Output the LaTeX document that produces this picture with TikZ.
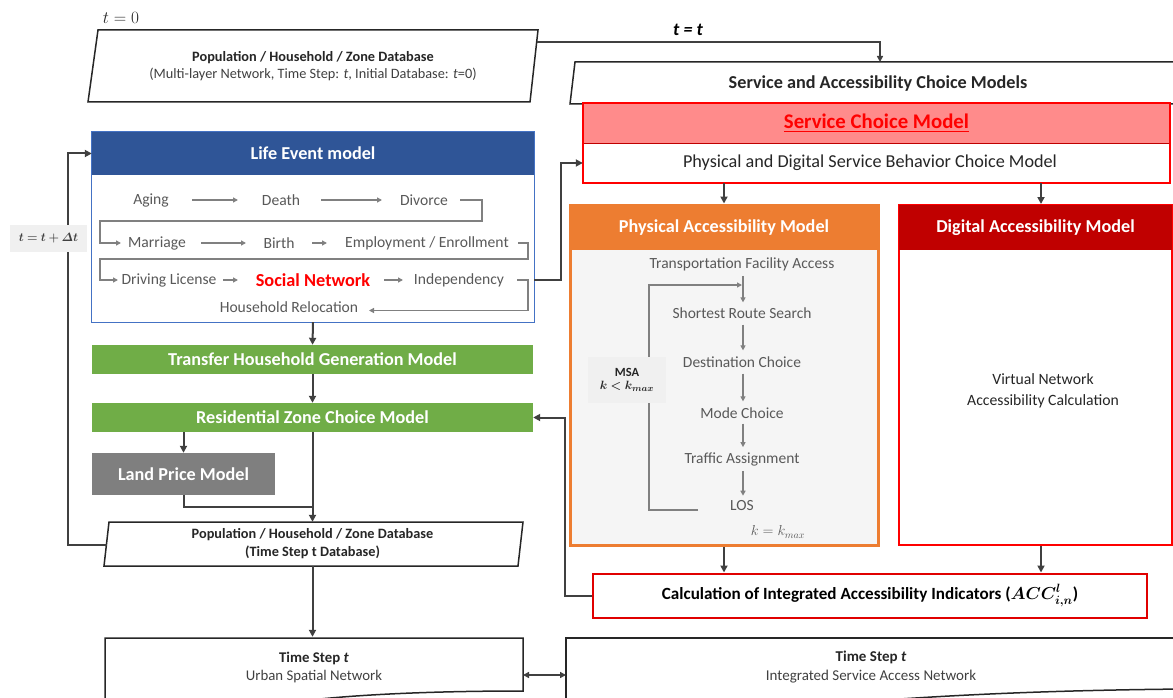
\documentclass[tikz,border=0pt]{standalone}
\usepackage{fontspec}
\setmainfont{Carlito}
\usepackage{amsmath}
\usepackage{bm}
\usetikzlibrary{arrows.meta,calc}
\definecolor{cline}{HTML}{404040}
\definecolor{agray}{HTML}{808080}
\definecolor{tgray}{HTML}{595959}
\definecolor{tdark}{HTML}{262626}
\definecolor{bluec}{HTML}{2F5597}
\definecolor{leborder}{HTML}{4472C4}
\definecolor{greenc}{HTML}{70AD47}
\definecolor{landc}{HTML}{7F7F7F}
\definecolor{orangec}{HTML}{ED7D31}
\definecolor{innerc}{HTML}{F5F5F5}
\definecolor{lblbg}{HTML}{F0F0F0}
\definecolor{darkredc}{HTML}{C00000}
\definecolor{pinkc}{HTML}{FF8B8B}
\definecolor{redc}{HTML}{FF0000}
\definecolor{calcred}{HTML}{E00000}
\begin{document}
\begin{tikzpicture}[x=1pt,y=-1pt,
  conn/.style={draw=cline, line width=2pt, -{Triangle[length=7pt,width=7pt]}},
  plainline/.style={draw=cline, line width=2pt},
  iarrow/.style={draw=agray, line width=1.3pt, -{Triangle[length=5pt,width=5pt]}},
  item/.style={text=tgray, font=\fontsize{15.6}{18}\selectfont, inner sep=1pt},
  pitem/.style={text=tgray, font=\fontsize{15.5}{18}\selectfont, inner sep=2pt},
  hdr/.style={text=white, font=\bfseries\fontsize{18.2}{21}\selectfont, inner sep=0pt},
  gbox/.style={fill=greenc, text=white, font=\bfseries\fontsize{18.2}{21}\selectfont, minimum width=441pt, minimum height=29pt, inner sep=0pt},
  outline/.style={draw=black!85, line width=1.5pt},
  dbtext/.style={align=center, inner sep=0pt, font=\fontsize{14.3}{18}\selectfont},
]
\useasboundingbox (0,0) rectangle (1173,698);

% ---------- top database ----------
\node[text=tdark, font=\fontsize{16}{18}\selectfont] (t0) at (121,18) {$t=0$};
\draw[outline, fill=white] (98,30) -- (538,30) -- (530,102) -- (88,102) -- cycle;
\node[dbtext, minimum width=440pt, minimum height=72pt] (db0) at (313,66)
  {\textcolor{tdark}{\textbf{Population / Household / Zone Database}}\\[-1pt]
   \textcolor{cline}{(Multi-layer Network, Time Step: \textit{t}, Initial Database: \textit{t}=0)}};

% ---------- service & accessibility ----------
\draw[outline, fill=white] (570,104) -- (575,62) -- (1185,62) -- (1185,104) -- cycle;
\node[text=tdark, font=\bfseries\fontsize{18.2}{21}\selectfont] (sam) at (878,84) {Service and Accessibility Choice Models};
\coordinate (samtop) at (880,62);
\node[text=black, font=\bfseries\itshape\fontsize{18}{21}\selectfont] (ttlab) at (688,30) {t = t};
\coordinate (db0r) at (536.5,42);
\draw[cline, line width=1.6pt, -{Triangle[length=6pt,width=6pt]}] (db0r) -| (samtop);

% service choice model
\node[fill=white, minimum width=587pt, minimum height=80pt, inner sep=0pt] (sc) at (876.5,143) {};
\node[fill=pinkc, minimum width=587pt, minimum height=40pt, inner sep=0pt, text=redc,
      font=\bfseries\fontsize{20.8}{24}\selectfont] (sch) at (876.5,123) {\underline{Service Choice Model}};
\draw[draw=red!75!black, line width=0.8pt] (sch.south west) -- (sch.south east);
\node[minimum width=587pt, minimum height=40pt, inner sep=0pt, text=tdark,
      font=\fontsize{18.2}{21}\selectfont] (scb) at (870,163) {Physical and Digital Service Behavior Choice Model};
\draw[draw=redc, line width=2pt] (sc.north west) rectangle (sc.south east);

% physical accessibility
\node[draw=orangec, line width=3pt, fill=innerc, minimum width=308pt, minimum height=340pt, inner sep=0pt] (pam) at (724,375) {};
\node[fill=orangec, minimum width=308pt, minimum height=45pt, hdr] (pamh) at (724,227.5) {Physical Accessibility Model};
\node[pitem] (tfa) at (742,264) {Transportation Facility Access};
\node[pitem] (srs) at (742,313) {Shortest Route Search};
\node[pitem] (dc)  at (742,362) {Destination Choice};
\node[pitem] (mc)  at (742,413) {Mode Choice};
\node[pitem] (ta)  at (742,459) {Traffic Assignment};
\node[pitem] (los) at (742,506) {LOS};
\draw[iarrow, shorten <=3pt, shorten >=3pt] (tfa.south -| 743,0) -- (srs.north -| 743,0);
\draw[iarrow, shorten <=4pt, shorten >=4pt] (srs.south -| 743,0) -- (dc.north -| 743,0);
\draw[iarrow, shorten <=4pt, shorten >=4pt] (dc.south -| 743,0) -- (mc.north -| 743,0);
\draw[iarrow, shorten <=3pt, shorten >=3pt] (mc.south -| 743,0) -- (ta.north -| 743,0);
\draw[iarrow, shorten <=3pt, shorten >=3pt] (ta.south -| 743,0) -- (los.north -| 743,0);
\coordinate (loopstart) at (698,510);
\coordinate (loopend) at (742,285);
\draw[iarrow] (loopstart) -| (649,285) -- (loopend);
\node[fill=lblbg, minimum width=78pt, minimum height=46pt, align=center, inner sep=0pt,
      text=tdark, font=\fontsize{12.5}{15}\selectfont] (msa) at (627,380)
  {\textbf{MSA}\\[-2pt] $\bm{k<k_{max}}$};
\node[text=tgray, font=\fontsize{14}{16}\selectfont] (kmax) at (778,532) {$k=k_{max}$};

% digital accessibility
\node[draw=redc, line width=2pt, fill=white, minimum width=273pt, minimum height=340pt, inner sep=0pt] (dam) at (1035.5,375) {};
\node[fill=darkredc, minimum width=273pt, minimum height=45pt, hdr] (damh) at (1035.5,227.5) {Digital Accessibility Model};
\node[align=center, text=tdark, font=\fontsize{15.7}{21}\selectfont, inner sep=0pt] (vna) at (1043,391)
  {Virtual Network\\Accessibility Calculation};

% arrows into accessibility models
\draw[conn] (scb.south -| pam.north) -- (pam.north);
\draw[conn] (scb.south -| 1041,0) -- (dam.north -| 1041,0);

% calculation box
\node[draw=calcred, line width=2pt, fill=white, minimum width=554pt, minimum height=44pt, inner sep=0pt,
      text=black, font=\bfseries\fontsize{17.1}{20}\selectfont] (calc) at (870,595.5)
  {Calculation of Integrated Accessibility Indicators ($\bm{ACC^{l}_{i,n}}$)};
\draw[conn] (pam.south) -- (calc.north -| pam.south);
\draw[conn] (dam.south -| 1041,0) -- (calc.north -| 1041,0);

% ---------- life event ----------
\node[fill=white, minimum width=442pt, minimum height=190pt, inner sep=0pt] (le) at (313,227) {};
\node[fill=bluec, minimum width=442pt, minimum height=43pt, hdr] (leh) at (313,153.5) {Life Event model};
\draw[draw=leborder, line width=1.3pt] (le.north west) rectangle (le.south east);

\node[item] (aging)   at (151,200) {Aging};
\node[item] (death)   at (281,200) {Death};
\node[item] (divorce) at (424,200) {Divorce};
\node[item] (marr)    at (157,243) {Marriage};
\node[item] (birth)   at (279,243) {Birth};
\node[item] (empl)    at (427,243) {Employment / Enrollment};
\node[item] (drive)   at (169,280) {Driving License};
\node[text=red, font=\bfseries\fontsize{18.3}{21}\selectfont, inner sep=1pt] (social) at (313,280) {Social Network};
\node[item] (indep)   at (459,280) {Independency};
\node[item] (reloc)   at (289,307) {Household Relocation};

\draw[iarrow] (192,200) -- (238,200);
\draw[iarrow] (321,200) -- (382,200);
\draw[iarrow] (201,243) -- (246,243);
\draw[iarrow] (312,243) -- (327,243);
\draw[iarrow] (223,280) -- (238,280);
\draw[iarrow] (384,280) -- (403,280);
\draw[iarrow] (460,200) -| (482,221) -| (100,243) -- (121,243);
\draw[iarrow] (518,243) -| (528,259) -| (100,280) -- (118,280);
\draw[iarrow] (517,280) -| (528,310.5) -- (369,310.5);

% life event -> service choice
\draw[conn] (le.east |- indep.east) -- ++(27,0) |- (scb.west -| sc.west);

% green boxes
\node[gbox] (thg) at (312.5,359.5) {Transfer Household Generation Model};
\node[gbox] (rz)  at (312.5,417.5) {Residential Zone Choice Model};
\node[fill=landc, text=white, font=\bfseries\fontsize{18.2}{21}\selectfont, minimum width=183pt, minimum height=42pt, inner sep=0pt] (lp) at (183.5,474) {Land Price Model};

\draw[conn] (le.south) -- (thg.north);
\draw[conn] (thg.south) -- (rz.north);
\draw[conn] (rz.south -| lp.north) -- (lp.north);

% bottom database
\draw[outline, fill=white] (109,522) -- (523,522) -- (518,566) -- (104,566) -- cycle;
\node[dbtext, minimum width=410pt, minimum height=44pt, font=\bfseries\fontsize{14.3}{18}\selectfont, text=tdark] (db1) at (312.5,544)
  {Population / Household / Zone Database\\(Time Step t Database)};
\draw[conn] (rz.south) -- (db1.north);
\draw[plainline] (lp.south) |- (312.5,507);

% feedback loop
\coordinate (db1l) at (106.5,545);
\draw[conn] (db1l) -| (68,200) |- (leh.west);
\node[fill=lblbg, minimum width=77pt, minimum height=27pt, inner sep=0pt, text=cline,
      font=\fontsize{12.5}{15}\selectfont] (dt) at (48.5,238.5) {$\bm{t=t+\varDelta t}$};

% calc -> residential
\draw[conn] (calc.west) -- ++(-27,0) |- (rz.east);

% ---------- bottom documents ----------
\draw[outline] (105,712) -- (105,638) -- (523,638) -- (523,691) .. controls (440,691) and (370,694) .. (320,699) .. controls (290,702) and (270,706) .. (250,712);
\node[minimum width=418pt, minimum height=60pt, inner sep=0pt, align=center, text=tdark,
      font=\fontsize{14.8}{18}\selectfont] (usn) at (314,667)
  {\textbf{Time Step \textit{t}}\\\textcolor{cline}{Urban Spatial Network}};
\draw[outline] (566,712) -- (566,638) -- (1185,638);
\draw[outline] (900,699) .. controls (990,693) and (1080,690) .. (1185,689);
\node[minimum width=610pt, minimum height=60pt, inner sep=0pt, align=center, text=tdark,
      font=\fontsize{15}{19}\selectfont] (isan) at (871,667)
  {\textbf{Time Step \textit{t}}\\\textcolor{cline}{Integrated Service Access Network}};
\draw[conn] (db1.south) -- (db1.south |- usn.north);
\draw[cline, line width=2pt, {Triangle[length=6pt,width=6pt]}-{Triangle[length=6pt,width=6pt]}] (523,675) -- (566,675);
\end{tikzpicture}
\end{document}
